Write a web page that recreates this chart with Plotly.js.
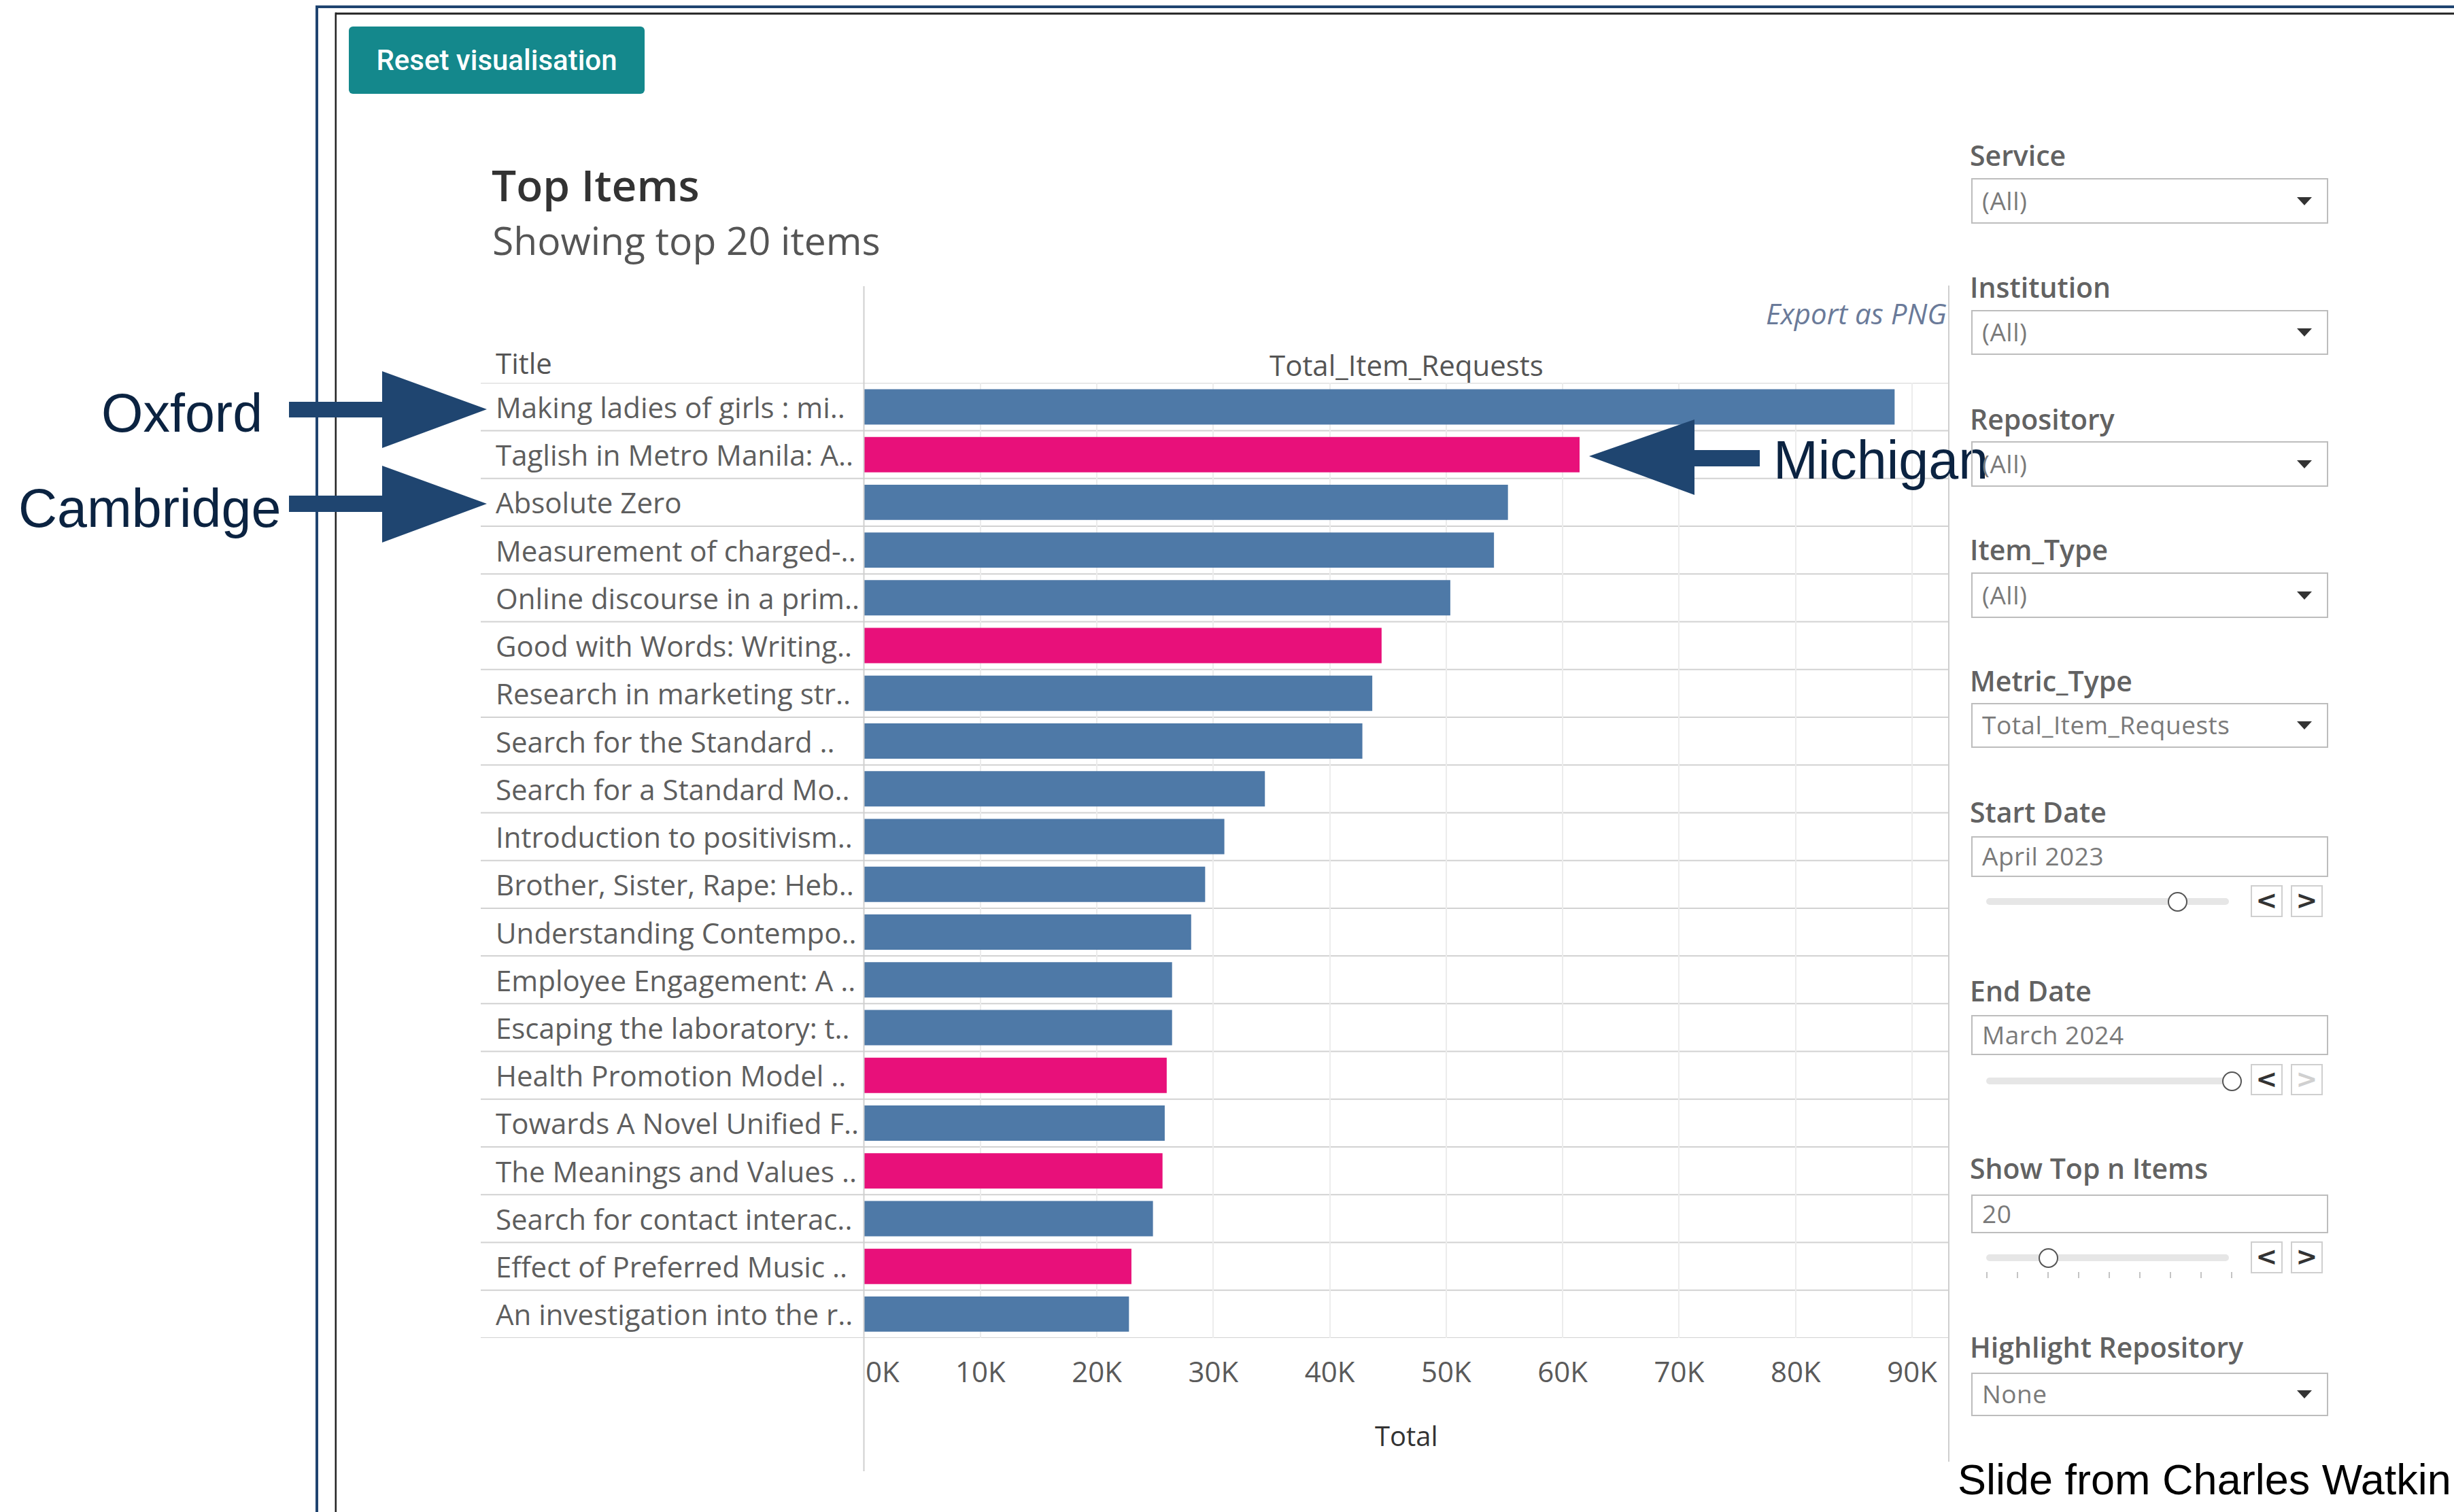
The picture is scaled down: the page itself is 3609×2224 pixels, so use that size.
<!DOCTYPE html>
<html><head><meta charset="utf-8">
<script src="https://cdn.plot.ly/plotly-3.0.1.min.js"></script>
<style>
html,body{margin:0;padding:0;background:#fff;}
#wrap{position:relative;width:3609px;height:2224px;overflow:hidden;background:#fff;}
#chart{position:absolute;left:0;top:0;width:3609px;height:2224px;}
#panel{position:absolute;left:0;top:0;width:3609px;height:2224px;pointer-events:none;}
.lbl{position:absolute;left:2897px;height:56px;line-height:56px;font-family:'Open Sans',sans-serif;font-weight:600;font-size:41px;color:#626262;white-space:nowrap;}
.box{position:absolute;left:2899px;width:525px;border:2px solid #bdbdbd;box-sizing:border-box;background:transparent;}
.bt{position:absolute;left:14px;top:50%;transform:translateY(-52%);font-family:'Open Sans',sans-serif;font-size:37px;color:#7a7a7a;white-space:nowrap;letter-spacing:0.5px;}
.dd{position:absolute;right:22px;top:50%;margin-top:-6px;width:0;height:0;border-left:11px solid transparent;border-right:11px solid transparent;border-top:12px solid #333;}
.track{position:absolute;left:2921px;width:357px;height:10px;background:#e6e6e6;border-radius:5px;}
.knob{position:absolute;width:29px;height:29px;border:2.5px solid #555;border-radius:50%;background:#fff;box-sizing:border-box;}
.step{position:absolute;width:47px;border:2px solid #cfcfcf;box-sizing:border-box;background:#fff;font-family:'DejaVu Sans',sans-serif;font-weight:bold;font-size:38px;color:#333;text-align:center;}
.tick{position:absolute;width:2px;height:9px;background:#c4c4c4;}
#reset{position:absolute;left:513px;top:39px;width:435px;height:99px;background:#14888c;border-radius:6px;color:#fff;font-family:Roboto,'Liberation Sans',sans-serif;font-weight:500;font-size:42px;line-height:99px;text-align:center;}
#credit{position:absolute;left:2879px;top:2136px;height:80px;line-height:80px;font-family:'Liberation Sans',Arial,sans-serif;font-size:63px;color:#000;white-space:nowrap;}
</style></head><body>
<div id="wrap"><div id="chart"></div><div id="panel"></div></div>
<script>
// ---- data ----
const titles = [
  "Making ladies of girls : mi..",
  "Taglish in Metro Manila: A..",
  "Absolute Zero",
  "Measurement of charged-..",
  "Online discourse in a prim..",
  "Good with Words: Writing..",
  "Research in marketing str..",
  "Search for the Standard ..",
  "Search for a Standard Mo..",
  "Introduction to positivism..",
  "Brother, Sister, Rape: Heb..",
  "Understanding Contempo..",
  "Employee Engagement: A ..",
  "Escaping the laboratory: t..",
  "Health Promotion Model ..",
  "Towards A Novel Unified F..",
  "The Meanings and Values ..",
  "Search for contact interac..",
  "Effect of Preferred Music ..",
  "An investigation into the r.."
];
const totalRequests = [88500, 61450, 55300, 54100, 50350, 44450, 43650, 42800, 34430, 30950,
                       29300, 28100, 26460, 26460, 26000, 25830, 25640, 24820, 22970, 22760];
const highlighted = [0,1,0,0,0,1,0,0,0,0,0,0,0,0,1,0,1,0,1,0];
const tickValues = [0,10000,20000,30000,40000,50000,60000,70000,80000,90000];
const tickLabels = ["0K","10K","20K","30K","40K","50K","60K","70K","80K","90K"];
const chartTitle = "Top Items";
const chartSubtitle = "Showing top 20 items";
const dropdownFilters = ["Service","Institution","Repository","Item_Type","Metric_Type"];
const dropdownValues = ["(All)","(All)","(All)","(All)","Total_Item_Requests"];
const startDate = "April 2023";
const endDate = "March 2024";
const topN = "20";
const highlightRepository = "None";
const callouts = ["Oxford","Cambridge","Michigan"];

// ---- geometry helpers ----
const W = 3609, H = 2224;
const px = x => x / W;
const py = y => 1 - y / H;
const BLUE = '#4e79a7', PINK = '#e8107a', NAVY = '#1f4570', INK = '#0b2341';
const plotLeft = 1270.5, plotRight = 2866, plotTop = 563.3, plotBottom = 1968;

function poly(pts){
  return 'M ' + pts.map(p => px(p[0]) + ',' + py(p[1])).join(' L ') + ' Z';
}

const shapes = [];
// frame lines
shapes.push({type:'rect',xref:'paper',yref:'paper',x0:px(464),x1:px(3609),y0:py(8),y1:py(12),fillcolor:'#1f4470',line:{width:0}});
shapes.push({type:'rect',xref:'paper',yref:'paper',x0:px(464),x1:px(468),y0:py(8),y1:py(2224),fillcolor:'#1f4470',line:{width:0}});
shapes.push({type:'rect',xref:'paper',yref:'paper',x0:px(493),x1:px(3609),y0:py(18.5),y1:py(21.5),fillcolor:'#222',line:{width:0}});
shapes.push({type:'rect',xref:'paper',yref:'paper',x0:px(492.5),x1:px(495),y0:py(18.5),y1:py(2224),fillcolor:'#222',line:{width:0}});
// row separators
for (let i = 0; i <= titles.length; i++) {
  shapes.push({type:'line',xref:'paper',yref:'y',x0:px(707),x1:px(plotRight),y0:i-0.5,y1:i-0.5,line:{color:'#d2d2d2',width:2},layer:'below'});
}
// vertical dividers
shapes.push({type:'line',xref:'paper',yref:'paper',x0:px(plotLeft),x1:px(plotLeft),y0:py(421),y1:py(2164),line:{color:'#cfcfcf',width:2}});
shapes.push({type:'line',xref:'paper',yref:'paper',x0:px(plotRight),x1:px(plotRight),y0:py(420),y1:py(2150),line:{color:'#cfcfcf',width:2}});
// callout arrows
shapes.push({type:'path',xref:'paper',yref:'paper',fillcolor:NAVY,line:{width:0},
  path:poly([[425,591],[562,591],[562,546],[716,602],[562,659],[562,614],[425,614]])});
shapes.push({type:'path',xref:'paper',yref:'paper',fillcolor:NAVY,line:{width:0},
  path:poly([[425,729],[562,729],[562,685],[716,741],[562,798],[562,753],[425,753]])});
shapes.push({type:'path',xref:'paper',yref:'paper',fillcolor:NAVY,line:{width:0},
  path:poly([[2588,662],[2492,662],[2492,617],[2337,671],[2492,728],[2492,686],[2588,686]])});

const annotations = [];
titles.forEach(t => annotations.push({xref:'paper',yref:'y',x:px(727),y:t,xanchor:'left',yanchor:'middle',
  text:t,showarrow:false,font:{family:'Open Sans',size:42,color:'#5e5e5e'}}));
annotations.push({xref:'paper',yref:'paper',x:px(722),y:py(353),xanchor:'left',yanchor:'middle',text:chartSubtitle,showarrow:false,
  font:{family:'Open Sans',size:57,color:'#555'}});
annotations.push({xref:'paper',yref:'paper',x:px(727),y:py(534),xanchor:'left',yanchor:'middle',text:'Title',showarrow:false,
  font:{family:'Open Sans',size:42,color:'#555'}});
annotations.push({xref:'paper',yref:'paper',x:px((plotLeft+plotRight)/2),y:py(536),xanchor:'center',yanchor:'middle',text:'Total_Item_Requests',showarrow:false,
  font:{family:'Open Sans',size:42,color:'#555'}});
annotations.push({xref:'paper',yref:'paper',x:px(2865),y:py(460),xanchor:'right',yanchor:'middle',text:'Export as PNG',showarrow:false,
  font:{family:'Open Sans',size:42,color:'#6a7a99',style:'italic'}});
annotations.push({xref:'paper',yref:'paper',x:px(388),y:py(607),xanchor:'right',yanchor:'middle',text:callouts[0],showarrow:false,
  font:{family:'Liberation Sans, Arial',size:79,color:INK}});
annotations.push({xref:'paper',yref:'paper',x:px(415),y:py(747),xanchor:'right',yanchor:'middle',text:callouts[1],showarrow:false,
  font:{family:'Liberation Sans, Arial',size:79,color:INK}});
annotations.push({xref:'paper',yref:'paper',x:px(2606),y:py(677),xanchor:'left',yanchor:'middle',text:callouts[2],showarrow:false,
  font:{family:'Liberation Sans, Arial',size:79,color:INK}});

const pad = '\u00a0\u00a0\u00a0\u00a0\u00a0';
const data = [{
  type:'bar', orientation:'h', y:titles, x:totalRequests,
  marker:{color:highlighted.map(h => h ? PINK : BLUE), line:{width:0}},
  hovertemplate:'%{y}: %{x}<extra></extra>'
}];

const layout = {
  width:W, height:H, margin:{l:0,r:0,t:0,b:0,autoexpand:false}, paper_bgcolor:'rgba(0,0,0,0)', plot_bgcolor:'#fff',
  showlegend:false, bargap:0.26, font:{family:'Open Sans',color:'#555'},
  title:{text:chartTitle, xref:'paper', yref:'paper', x:px(723), xanchor:'left', y:py(274), yanchor:'middle',
    font:{family:'Open Sans',size:64,color:'#333',weight:600}},
  xaxis:{domain:[px(plotLeft),px(plotRight)], range:[0,93150], tickmode:'array', tickvals:tickValues,
    ticktext:tickLabels.map((t,i) => i === 0 ? pad + t : t),
    showgrid:true, gridcolor:'#ececec', gridwidth:2, zeroline:false, showline:false, ticks:'',
    tickfont:{family:'Open Sans',size:42,color:'#5a5a5a'}, ticklabelstandoff:22,
    title:{text:'Total', font:{family:'Open Sans',size:40,color:'#333'}, standoff:54},
    automargin:'height', fixedrange:true},
  yaxis:{domain:[py(plotBottom),py(plotTop)], type:'category', categoryorder:'array', categoryarray:titles,
    range:[titles.length-0.5,-0.5], autorange:false, showticklabels:false, showgrid:false, zeroline:false,
    ticks:'', automargin:false, fixedrange:true},
  shapes:shapes, annotations:annotations
};

Plotly.newPlot('chart', data, layout, {displayModeBar:false, staticPlot:true});

// ---- Tableau-like filter panel ----
const panel = document.getElementById('panel');
function el(cls, style, text, parent){
  const e = document.createElement('div');
  if (cls) e.className = cls;
  Object.assign(e.style, style || {});
  if (text != null) e.textContent = text;
  (parent || panel).appendChild(e);
  return e;
}
const reset = el('', {}, 'Reset visualisation'); reset.id = 'reset';
const credit = el('', {}, 'Slide from Charles Watkin'); credit.id = 'credit';

function label(text, cy){ el('lbl', {top:(cy-28)+'px'}, text); }
function box(text, top, bottom, arrow){
  const b = el('box', {top:top+'px', height:(bottom-top)+'px'});
  el('bt', {}, text, b);
  if (arrow) el('dd', {}, null, b);
}
function slider(cy, knobX, nTicks){
  el('track', {top:(cy-5)+'px'});
  if (nTicks) {
    for (let i = 0; i < nTicks; i++) {
      el('tick', {left:(2921 + i*(360/(nTicks-1)))+'px', top:(cy+21)+'px'});
    }
  }
  el('knob', {left:(knobX-14.5)+'px', top:(cy-14.5)+'px'});
}
function steps(top, bottom, nextDisabled){
  const h = bottom - top;
  el('step', {left:'3310px', top:top+'px', height:h+'px', lineHeight:(h-6)+'px'}, '<');
  el('step', {left:'3369px', top:top+'px', height:h+'px', lineHeight:(h-6)+'px', color: nextDisabled ? '#d0d0d0' : '#333'}, '>');
}

const ddRows = [[228,262,329],[422,456,522],[616,649,716],[808,842,909],[1001,1034,1100]];
dropdownFilters.forEach((name, i) => {
  label(name, ddRows[i][0]);
  box(dropdownValues[i], ddRows[i][1], ddRows[i][2], true);
});
label('Start Date', 1194); box(startDate, 1230, 1290, false); slider(1326, 3202, 0); steps(1302, 1349, false);
label('End Date', 1457); box(endDate, 1493, 1552, false); slider(1590, 3282, 0); steps(1565, 1611, true);
label('Show Top n Items', 1718); box(topN, 1757, 1814, false); slider(1850, 3012, 9); steps(1826, 1873, false);
label('Highlight Repository', 1981); box(highlightRepository, 2019, 2083, true);
</script>
</body></html>
